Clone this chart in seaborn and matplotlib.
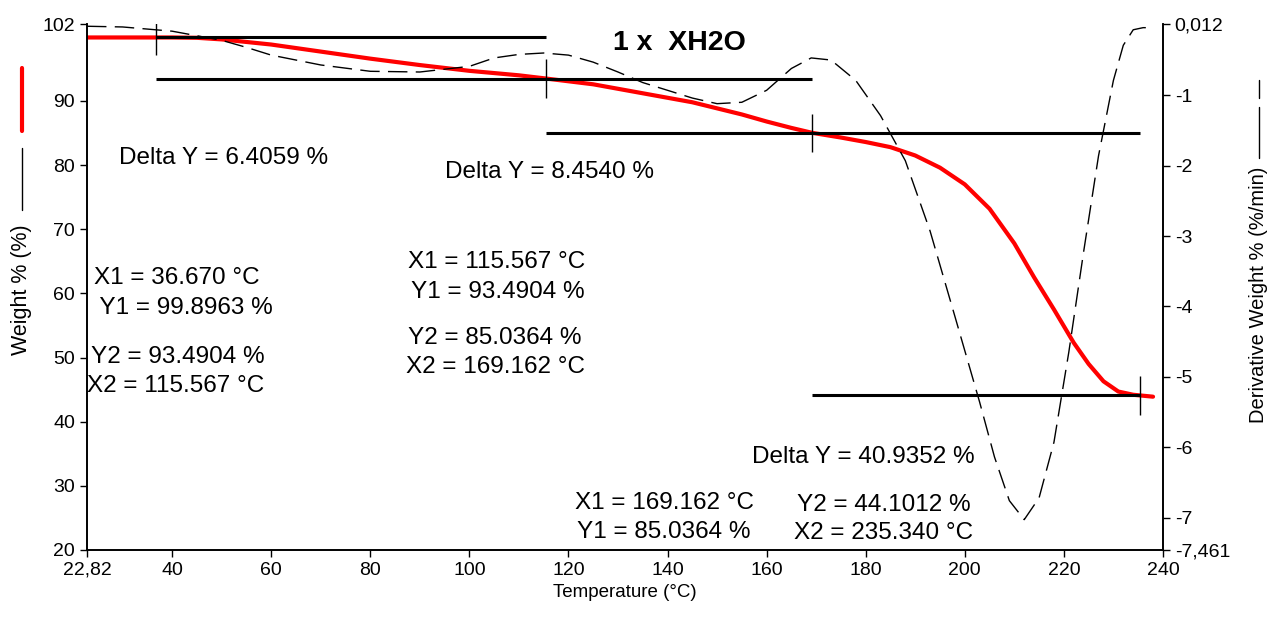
import matplotlib
matplotlib.use("Agg")
import matplotlib.pyplot as plt
from matplotlib.lines import Line2D
import seaborn as sns

# weight curve (red), left axis
temp_w = [22.82, 30, 40, 45, 50, 60, 70, 80, 90, 100, 110, 115.567, 125, 135, 145,
          155, 160, 165, 169.162, 175, 180, 185, 190, 195, 200, 205, 210, 214, 218,
          222, 225, 228, 231, 234, 238]
weight = [99.9, 99.9, 99.9, 99.85, 99.6, 98.8, 97.7, 96.6, 95.6, 94.7, 94.0, 93.49,
          92.6, 91.2, 89.8, 87.9, 86.8, 85.8, 85.04, 84.3, 83.6, 82.8, 81.5, 79.6,
          77.0, 73.2, 67.8, 62.5, 57.5, 52.3, 49.0, 46.3, 44.7, 44.2, 43.9]

# derivative curve (dashed), right axis
temp_d = [22.82, 30, 40, 50, 55, 60, 70, 80, 90, 100, 105, 110, 115, 120, 125, 130,
          135, 140, 145, 150, 155, 160, 165, 169, 173, 178, 183, 188, 193, 198, 203,
          206, 209, 212, 215, 218, 221, 224, 227, 230, 232, 234, 236, 238]
deriv = [-0.02, -0.03, -0.09, -0.22, -0.32, -0.43, -0.57, -0.66, -0.67, -0.59, -0.47,
         -0.42, -0.40, -0.43, -0.53, -0.67, -0.82, -0.93, -1.04, -1.12, -1.10, -0.93,
         -0.62, -0.47, -0.50, -0.79, -1.29, -1.93, -2.93, -4.14, -5.36, -6.14, -6.76,
         -7.03, -6.72, -5.93, -4.65, -3.22, -1.86, -0.79, -0.29, -0.07, -0.04, -0.04]

# step analysis results
x1 = [36.670, 115.567, 169.162]
x2 = [115.567, 169.162, 235.340]
y1 = [99.8963, 93.4904, 85.0364]
y2 = [93.4904, 85.0364, 44.1012]

x_ticks = [22.82, 40, 60, 80, 100, 120, 140, 160, 180, 200, 220, 240]
x_labels = ["22,82", "40", "60", "80", "100", "120", "140", "160", "180", "200", "220", "240"]
yl_ticks = [20, 30, 40, 50, 60, 70, 80, 90, 102]
yr_ticks = [-7.461, -7, -6, -5, -4, -3, -2, -1, 0.012]
yr_labels = ["-7,461", "-7", "-6", "-5", "-4", "-3", "-2", "-1", "0,012"]

sns.set_style("ticks")
plt.rcParams['font.family'] = ['Liberation Sans', 'DejaVu Sans']
plt.rcParams['text.color'] = 'black'
plt.rcParams['axes.labelcolor'] = 'black'

fig = plt.figure(figsize=(12.7, 6.17), dpi=100)
ax = fig.add_axes([0.0685, 0.1086, 0.8472, 0.8525])
ax2 = ax.twinx()

sns.lineplot(x=temp_d, y=deriv, ax=ax2, color='black', linewidth=1.0,
             linestyle=(0, (14, 6)), sort=False)
sns.lineplot(x=temp_w, y=weight, ax=ax, color='red', linewidth=3, sort=False)

# horizontal step lines + vertical markers
ax.hlines(y1[0], x1[0], x2[0], color='black', lw=2.2)
ax.hlines(y2[0], x1[0], x2[1], color='black', lw=2.2)
ax.hlines(y2[1], x1[1], x2[2], color='black', lw=2.2)
ax.hlines(y2[2], x1[2], x2[2], color='black', lw=2.2)
ax.vlines(x1[0], y1[0] - 2.8, y1[0] + 2.5, color='black', lw=1)
ax.vlines(x1[1], y1[1] - 3.0, y1[1] + 3.0, color='black', lw=1)
ax.vlines(x1[2], y1[2] - 3.0, y1[2] + 3.0, color='black', lw=1)
ax.vlines(x2[2], y2[2] - 3.0, y2[2] + 3.0, color='black', lw=1)

fs = 17.5
notes = [
    ("Delta Y = 6.4059 %", 29.3, 81.1),
    ("Delta Y = 8.4540 %", 95.0, 78.9),
    ("X1 = 36.670 °C", 24.2, 62.4),
    (" Y1 = 99.8963 %", 24.0, 57.7),
    ("Y2 = 93.4904 %", 23.6, 50.05),
    ("X2 = 115.567 °C", 22.9, 45.5),
    ("X1 = 115.567 °C", 87.6, 64.9),
    ("Y1 = 93.4904 %", 88.2, 60.2),
    ("Y2 = 85.0364 %", 87.6, 53.0),
    ("X2 = 169.162 °C", 87.2, 48.5),
    ("Delta Y = 40.9352 %", 157.0, 34.45),
    ("X1 = 169.162 °C", 121.4, 27.4),
    ("Y1 = 85.0364 %", 121.8, 22.75),
    ("Y2 = 44.1012 %", 166.1, 27.0),
    ("X2 = 235.340 °C", 165.5, 22.6),
]
for txt, tx, ty in notes:
    ax.text(tx, ty, txt, fontsize=fs, va='center', ha='left')
ax.text(128.9, 99.0, "1 x  XH2O", fontsize=20.5, fontweight='bold', va='center', ha='left')

ax.set_xlim(22.82, 240)
ax.set_ylim(20, 102)
ax2.set_ylim(-7.461, 0.012)
ax.set_xticks(x_ticks)
ax.set_xticklabels(x_labels)
ax.set_yticks(yl_ticks)
ax2.set_yticks(yr_ticks)
ax2.set_yticklabels(yr_labels)
for a in (ax, ax2):
    a.tick_params(labelsize=14, length=5, width=1, colors='black')
    a.spines['top'].set_visible(False)
    for s in a.spines.values():
        s.set_linewidth(1.2)
        s.set_color('black')
ax.set_xlabel("Temperature (°C)", fontsize=13.5, labelpad=4)
ax.set_ylabel("")
ax2.set_ylabel("")

# axis titles with legend marks
fig.text(22 / 1270, 1 - 290 / 617, "Weight % (%)", rotation=90, fontsize=15.5,
         ha='center', va='center')
fig.add_artist(Line2D([22 / 1270] * 2, [1 - 68 / 617, 1 - 131 / 617], color='red', lw=3))
fig.add_artist(Line2D([22 / 1270] * 2, [1 - 148 / 617, 1 - 210 / 617], color='black', lw=1))
fig.text(1259 / 1270, 1 - 295 / 617, "Derivative Weight % (%/min)", rotation=90,
         fontsize=14.5, ha='center', va='center')
fig.add_artist(Line2D([1259 / 1270] * 2, [1 - 80 / 617, 1 - 98 / 617], color='black', lw=1))
fig.add_artist(Line2D([1259 / 1270] * 2, [1 - 107 / 617, 1 - 158 / 617], color='black', lw=1))

fig.savefig("out.png", dpi=100)
